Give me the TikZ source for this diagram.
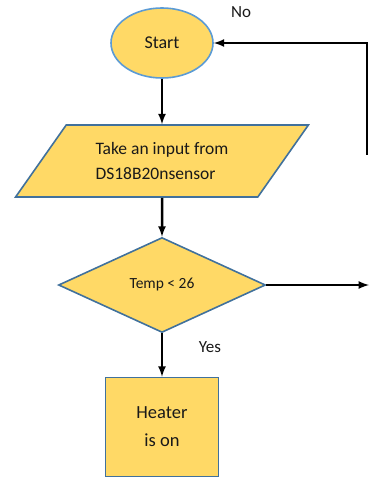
\documentclass[tikz,border=0pt]{standalone}
\usepackage{fontspec}
\setmainfont{Carlito}
\usepackage{tikz}
\usetikzlibrary{shapes.geometric,calc,arrows,positioning}

\definecolor{boxfill}{HTML}{FFD966}
\definecolor{startline}{HTML}{5B9BD5}
\definecolor{boxline}{HTML}{41719C}

\begin{document}
\begin{tikzpicture}[->,>=latex,line width=2.5pt,x=1pt,y=1pt,auto,
                    every node/.style={fill=boxfill,draw=boxline,line width=1.6pt,text=black!90,align=center},
                    note/.style={fill=none,draw=none,font=\fontsize{17}{20}\selectfont}]

  \useasboundingbox (0,0) rectangle (369,-478);

  \node[shape=ellipse,draw=startline,minimum width=102pt,minimum height=70pt,font=\fontsize{18}{22}\selectfont] (start) at (162,-43) {Start};
  \node[shape=trapezium,trapezium left angle=50,trapezium right angle=130,trapezium stretches=true,
        minimum width=293pt,minimum height=72pt,align=left,font=\fontsize{17.5}{25}\selectfont] (input) [below of=start,node distance=118pt] {Take an input from\\DS18B20nsensor};
  \node[shape=diamond,aspect=2.18,minimum width=207pt,minimum height=95pt,inner sep=0pt,font=\fontsize{15.5}{18}\selectfont] (check) [below of=input,node distance=124pt] {Temp < 26};
  \node[shape=rectangle,minimum width=113pt,minimum height=99pt,font=\fontsize{18.5}{28}\selectfont] (heater) [below of=check,node distance=142pt] {Heater\\is on};

  \node[note] (no) at (241,-12) {No};
  \node[note] (yes) at (210,-347) {Yes};

  \coordinate (noend) at (369,-285);
  \coordinate (loopfoot) at (367,-155);

  \path (start) edge (input)
        (input) edge (check)
        (check) edge (heater)
        (check.east) edge (noend);
  \draw (loopfoot) |- (start.east);
\end{tikzpicture}
\end{document}
